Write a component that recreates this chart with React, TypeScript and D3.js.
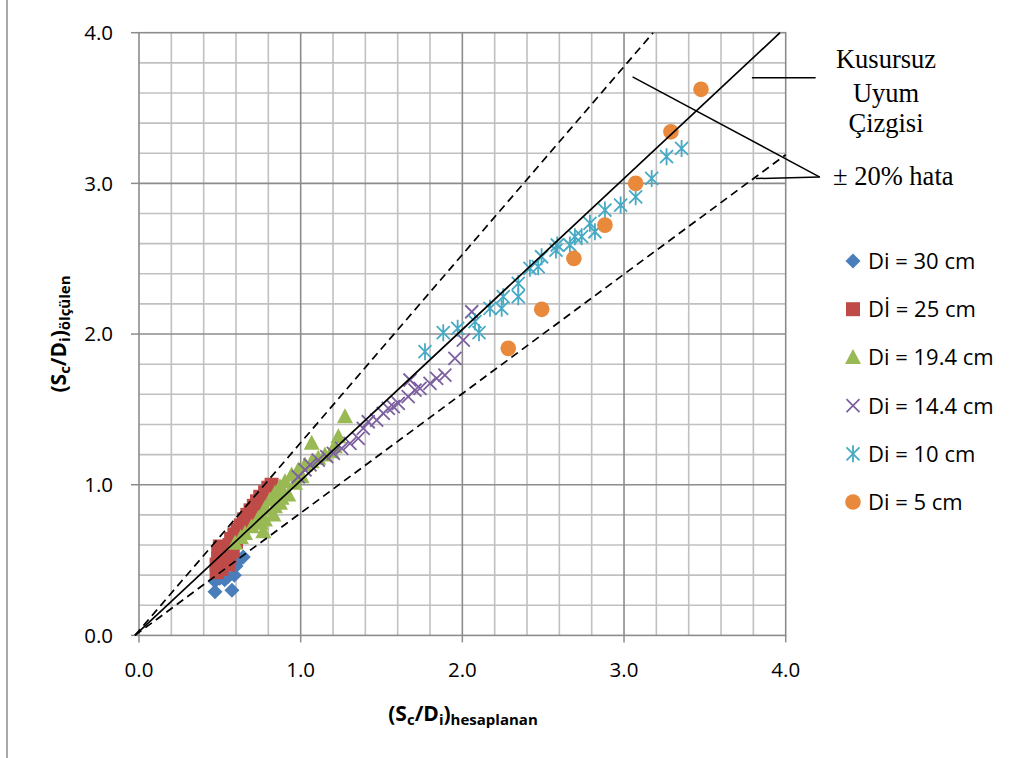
import React from 'react';
import * as d3 from 'd3';

// ---------- data ----------
const tickValues = [0, 1, 2, 3, 4];
const tickLabels = ['0.0', '1.0', '2.0', '3.0', '4.0'];

const seriesNames = ['Di = 30 cm', 'Dİ = 25 cm', 'Di = 19.4 cm', 'Di = 14.4 cm', 'Di = 10 cm', 'Di = 5 cm'];

const di30: [number, number][] = [
  [0.47, 0.29], [0.575, 0.3], [0.47, 0.36], [0.5, 0.38], [0.53, 0.37], [0.55, 0.39],
  [0.59, 0.4], [0.6, 0.46], [0.62, 0.5], [0.645, 0.52],
];

const di25: [number, number][] = [
  [0.48, 0.42], [0.48, 0.47], [0.49, 0.51], [0.49, 0.55], [0.5, 0.59], [0.51, 0.44],
  [0.52, 0.49], [0.53, 0.53], [0.53, 0.58], [0.55, 0.47], [0.56, 0.52], [0.56, 0.6],
  [0.57, 0.64], [0.58, 0.56], [0.59, 0.67], [0.6, 0.62], [0.61, 0.7], [0.62, 0.66],
  [0.63, 0.73], [0.64, 0.69], [0.65, 0.77], [0.66, 0.73], [0.67, 0.8], [0.68, 0.76],
  [0.69, 0.83], [0.7, 0.79], [0.71, 0.86], [0.72, 0.82], [0.73, 0.89], [0.74, 0.86],
  [0.75, 0.92], [0.76, 0.89], [0.78, 0.95], [0.79, 0.92], [0.8, 0.98], [0.82, 1.0],
];

const di194: [number, number][] = [
  [0.594, 0.611], [0.63, 0.65], [0.656, 0.677], [0.697, 0.721], [0.738, 0.777], [0.754, 0.744],
  [0.779, 0.843], [0.81, 0.898], [0.841, 0.943], [0.872, 0.987], [0.892, 0.954], [0.903, 1.02],
  [0.944, 1.064], [0.985, 1.098], [1.027, 1.131], [1.068, 1.153], [1.109, 1.175], [1.15, 1.197],
  [1.192, 1.219], [1.212, 1.252], [1.274, 1.451], [1.068, 1.275], [1.233, 1.318],
  [0.769, 0.688], [0.779, 0.766], [0.831, 0.799], [0.841, 0.854], [0.872, 0.877],
  [0.882, 0.91], [0.923, 0.932], [0.965, 1.009], [1.006, 1.053],
];

const di144: [number, number][] = [
  [0.985, 1.053], [1.027, 1.098], [1.058, 1.131], [1.109, 1.164], [1.161, 1.186], [1.202, 1.208],
  [1.254, 1.242], [1.305, 1.275], [1.356, 1.308], [1.387, 1.374], [1.418, 1.418], [1.47, 1.429],
  [1.511, 1.474], [1.542, 1.507], [1.573, 1.518], [1.604, 1.54], [1.665, 1.584], [1.676, 1.695],
  [1.707, 1.628], [1.738, 1.64], [1.8, 1.673], [1.841, 1.706], [1.892, 1.728], [1.954, 1.839],
  [2.006, 1.96], [2.058, 2.148],
];

const di10: [number, number][] = [
  [1.769, 1.883], [1.882, 2.009], [1.971, 2.038], [2.103, 2.009], [2.078, 2.082], [2.171, 2.171],
  [2.243, 2.171], [2.253, 2.248], [2.346, 2.248], [2.346, 2.336], [2.418, 2.436], [2.469, 2.447],
  [2.49, 2.513], [2.579, 2.557], [2.587, 2.591], [2.665, 2.591], [2.696, 2.646], [2.738, 2.646],
  [2.789, 2.735], [2.82, 2.679], [2.882, 2.823], [2.979, 2.856], [3.072, 2.911], [3.171, 3.033],
  [3.263, 3.177], [3.356, 3.232],
];

const di5: [number, number][] = [
  [2.284, 1.905], [2.491, 2.164], [2.69, 2.502], [2.882, 2.723], [3.072, 3.0], [3.29, 3.342], [3.476, 3.624],
];

// reference lines (data units)
const perfectLine: [number, number][] = [[-0.025, 0], [3.965, 4.0]];
const upperLine: [number, number][] = [[-0.025, 0], [3.18, 4.0]];
const lowerLine: [number, number][] = [[-0.025, 0], [4.0, 3.19]];

// annotation pointers (data units)
const perfectPointer: [number, number][] = [[3.791, 3.701], [4.185, 3.701]];
const errorPointerA: [number, number][] = [[3.053, 3.707], [4.211, 3.042]];
const errorPointerB: [number, number][] = [[3.815, 3.032], [4.211, 3.042]];

// ---------- styles ----------
const colors = ['#4A7EBB', '#BE4B48', '#98B954', '#7D60A0', '#46AAC5', '#E8893B'];
const shapes = ['diamond', 'square', 'triangle', 'x', 'star', 'circle'];
const allData = [di30, di25, di194, di144, di10, di5];

function Marker({ shape, color, cx, cy }: { shape: string; color: string; cx: number; cy: number }) {
  const t = `translate(${cx},${cy})`;
  switch (shape) {
    case 'diamond':
      return <path transform={t} d="M0,-7.5L7.5,0L0,7.5L-7.5,0Z" fill={color} />;
    case 'square':
      return <rect x={cx - 7} y={cy - 7} width={14} height={14} fill={color} />;
    case 'triangle':
      return <path transform={t} d="M0,-8.5L8,6.5L-8,6.5Z" fill={color} />;
    case 'x':
      return <path transform={t} d="M-6.5,-6.5L6.5,6.5M-6.5,6.5L6.5,-6.5" stroke={color} strokeWidth={1.8} fill="none" />;
    case 'star':
      return <path transform={t} d="M-6.5,-6.5L6.5,6.5M-6.5,6.5L6.5,-6.5M0,-8.5L0,8.5" stroke={color} strokeWidth={1.8} fill="none" />;
    default:
      return <circle cx={cx} cy={cy} r={7.8} fill={color} />;
  }
}

export default function App() {
  const W = 1018;
  const H = 758;
  const x = d3.scaleLinear().domain([0, 4]).range([139, 785.7]);
  const y = d3.scaleLinear().domain([0, 4]).range([635.4, 32.7]);
  const line = d3.line<[number, number]>().x((d) => x(d[0])).y((d) => y(d[1]));

  const minorVals = d3.range(1, 20).map((i) => i * 0.2).filter((v) => Math.abs(v - Math.round(v)) > 1e-6);
  const majorVals = [1, 2, 3];

  const sans = "'Open Sans', 'Liberation Sans', sans-serif";
  const serif = "'Liberation Serif', 'DejaVu Serif', serif";

  const legendX = 853;
  const legendY0 = 261;
  const legendStep = 48.2;

  return (
    <svg width={W} height={H} style={{ position: 'absolute', left: 0, top: 0, display: 'block', background: '#fff' }}>
      <rect x={0} y={0} width={W} height={H} fill="#fff" />
      <line x1={7} y1={0} x2={7} y2={H} stroke="#8C8C8C" strokeWidth={1.5} />

      {/* minor grid */}
      {minorVals.map((v) => (
        <line key={'mx' + v} x1={x(v)} x2={x(v)} y1={y(0)} y2={y(4)} stroke="#C0C0C0" strokeWidth={1.6} />
      ))}
      {minorVals.map((v) => (
        <line key={'my' + v} x1={x(0)} x2={x(4)} y1={y(v)} y2={y(v)} stroke="#C0C0C0" strokeWidth={1.6} />
      ))}
      {/* major grid */}
      {majorVals.map((v) => (
        <line key={'Mx' + v} x1={x(v)} x2={x(v)} y1={y(0)} y2={y(4)} stroke="#8C8C8C" strokeWidth={1.6} />
      ))}
      {majorVals.map((v) => (
        <line key={'My' + v} x1={x(0)} x2={x(4)} y1={y(v)} y2={y(v)} stroke="#8C8C8C" strokeWidth={1.6} />
      ))}
      <rect x={x(0)} y={y(4)} width={x(4) - x(0)} height={y(0) - y(4)} fill="none" stroke="#8C8C8C" strokeWidth={1.6} />

      {/* ticks */}
      {tickValues.map((v) => (
        <line key={'tx' + v} x1={x(v)} x2={x(v)} y1={y(0)} y2={y(0) + 7} stroke="#8C8C8C" strokeWidth={1.5} />
      ))}
      {tickValues.map((v) => (
        <line key={'ty' + v} x1={x(0) - 8} x2={x(0)} y1={y(v)} y2={y(v)} stroke="#8C8C8C" strokeWidth={1.5} />
      ))}

      {/* tick labels */}
      {tickValues.map((v, i) => (
        <text key={'lx' + v} x={x(v)} y={677} textAnchor="middle" fontFamily={sans} fontSize={20.5} fill="#000">
          {tickLabels[i]}
        </text>
      ))}
      {tickValues.map((v, i) => (
        <text key={'ly' + v} x={113} y={y(v)} dy="0.36em" textAnchor="end" fontFamily={sans} fontSize={20.5} fill="#000">
          {tickLabels[i]}
        </text>
      ))}

      {/* data */}
      {allData.map((data, si) => (
        <g key={'s' + si}>
          {data.map((d, i) => (
            <Marker key={i} shape={shapes[si]} color={colors[si]} cx={x(d[0])} cy={y(d[1])} />
          ))}
        </g>
      ))}

      {/* reference lines */}
      <path d={line(perfectLine) || ''} stroke="#000" strokeWidth={1.7} fill="none" />
      <path d={line(upperLine) || ''} stroke="#000" strokeWidth={1.7} strokeDasharray="8,5" fill="none" />
      <path d={line(lowerLine) || ''} stroke="#000" strokeWidth={1.7} strokeDasharray="8,5" fill="none" />

      {/* annotation pointers */}
      <path d={line(perfectPointer) || ''} stroke="#000" strokeWidth={1.5} fill="none" />
      <path d={line(errorPointerA) || ''} stroke="#000" strokeWidth={1.5} fill="none" />
      <path d={line(errorPointerB) || ''} stroke="#000" strokeWidth={1.5} fill="none" />

      {/* annotation text */}
      <g fontFamily={serif} fontSize={26.5} fill="#000" textAnchor="middle">
        <text x={886} y={68}>Kusursuz</text>
        <text x={886} y={101.7}>Uyum</text>
        <text x={886} y={131.7}>Çizgisi</text>
      </g>
      <text x={833} y={185} fontFamily={serif} fontSize={26.5} fill="#000">± 20% hata</text>

      {/* legend */}
      {seriesNames.map((name, i) => (
        <g key={'lg' + i}>
          <Marker shape={shapes[i]} color={colors[i]} cx={legendX} cy={legendY0 + i * legendStep} />
          <text x={868} y={legendY0 + i * legendStep} dy="0.36em" fontFamily={sans} fontSize={22} fill="#000">
            {name}
          </text>
        </g>
      ))}

      {/* axis titles */}
      <text x={463} y={721} textAnchor="middle" fontFamily={sans} fontWeight="bold" fontSize={21} fill="#000">
        (S<tspan fontSize={15} dy={4}>c</tspan>
        <tspan dy={-4}>/D</tspan>
        <tspan fontSize={15} dy={4}>i</tspan>
        <tspan dy={-4}>)</tspan>
        <tspan fontSize={15} dy={4}>hesaplanan</tspan>
      </text>
      <text
        transform={`translate(66,334) rotate(-90)`}
        textAnchor="middle"
        fontFamily={sans}
        fontWeight="bold"
        fontSize={21}
        fill="#000"
      >
        (S<tspan fontSize={15} dy={4}>c</tspan>
        <tspan dy={-4}>/D</tspan>
        <tspan fontSize={15} dy={4}>i</tspan>
        <tspan dy={-4}>)</tspan>
        <tspan fontSize={15} dy={4}>ölçülen</tspan>
      </text>
    </svg>
  );
}
